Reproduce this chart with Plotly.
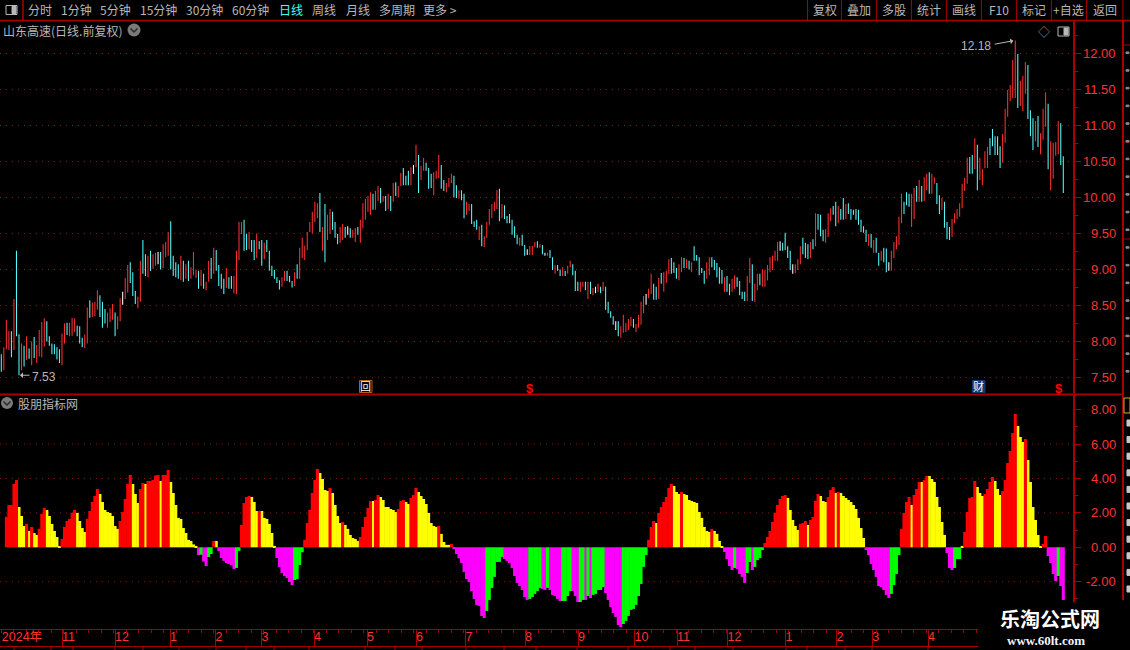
import pandas as pd
import plotly.graph_objects as go

# daily bars (range only, bodies are too thin to see)
highs = [
    7.82,7.92,8.30,8.14,8.14,8.59,9.26,8.10,7.97,7.94,
    8.07,7.90,8.00,8.06,7.95,8.16,8.27,8.32,8.28,8.07,
    7.97,7.96,7.92,7.89,8.11,8.25,8.26,8.26,8.33,8.32,
    8.22,8.21,8.05,8.10,8.47,8.57,8.54,8.55,8.71,8.64,
    8.55,8.45,8.40,8.46,8.52,8.40,8.35,8.60,8.69,8.88,
    9.06,9.10,8.96,8.70,8.62,9.12,9.41,9.21,9.19,9.26,
    9.21,9.23,9.24,9.24,9.35,9.38,9.52,9.67,9.19,9.10,
    9.07,9.19,9.12,9.07,9.12,9.03,9.24,9.00,8.98,8.99,
    8.94,8.83,9.12,9.16,9.30,9.27,9.06,8.94,8.87,9.02,
    8.89,8.91,8.91,9.26,9.66,9.66,9.69,9.49,9.52,9.41,
    9.41,9.50,9.39,9.41,9.37,9.41,9.26,9.05,8.99,8.89,
    8.85,8.89,8.98,8.98,8.91,8.84,8.96,9.07,9.30,9.44,
    9.33,9.52,9.66,9.80,9.94,9.92,10.06,9.59,9.91,9.76,
    9.84,9.80,9.66,9.49,9.59,9.63,9.59,9.60,9.57,9.55,
    9.57,9.59,9.69,9.92,9.98,10.02,10.07,10.05,10.09,10.16,
    10.13,10.02,10.02,10.05,10.02,10.20,10.21,10.16,10.34,10.41,
    10.30,10.37,10.42,10.45,10.73,10.59,10.44,10.55,10.48,10.41,
    10.33,10.35,10.37,10.59,10.45,10.24,10.20,10.27,10.33,10.30,
    10.17,10.10,10.10,10.05,9.94,9.91,9.91,9.67,9.69,9.60,
    9.62,9.46,9.66,9.84,9.91,9.94,10.10,10.12,9.91,9.89,
    9.74,9.77,9.69,9.60,9.48,9.44,9.48,9.34,9.28,9.33,
    9.33,9.38,9.39,9.35,9.34,9.23,9.23,9.27,9.17,9.06,
    9.06,9.00,9.03,8.98,9.05,9.12,9.07,8.98,8.83,8.83,
    8.83,8.83,8.83,8.83,8.74,8.76,8.80,8.76,8.83,8.76,
    8.55,8.42,8.35,8.28,8.28,8.21,8.37,8.26,8.31,8.34,
    8.31,8.24,8.37,8.55,8.63,8.66,8.73,8.94,8.80,8.76,
    8.88,8.95,8.96,8.98,9.14,9.16,9.10,9.02,9.07,9.17,
    9.16,9.14,9.12,9.10,9.32,9.20,9.17,9.02,8.98,9.10,
    9.17,9.17,9.13,9.09,9.03,8.99,8.89,8.91,8.80,8.87,
    8.92,8.89,8.84,8.69,8.69,8.91,9.16,9.07,8.80,8.94,
    8.94,9.00,9.00,9.06,9.17,9.19,9.26,9.38,9.39,9.37,
    9.51,9.32,9.26,9.07,9.07,9.14,9.32,9.44,9.37,9.35,
    9.38,9.42,9.78,9.77,9.76,9.55,9.56,9.78,9.85,9.88,
    9.94,9.88,9.84,9.99,9.91,9.92,9.84,9.83,9.84,9.83,
    9.69,9.60,9.55,9.49,9.49,9.41,9.44,9.23,9.26,9.30,
    9.29,9.10,9.26,9.38,9.46,9.73,10.05,9.94,10.07,10.05,
    10.05,10.13,10.16,10.24,10.16,10.28,10.33,10.35,10.33,10.28,
    10.20,10.03,9.99,9.94,9.66,9.59,9.70,9.78,9.84,9.92,
    10.19,10.27,10.55,10.56,10.59,10.82,10.73,10.55,10.39,10.64,
    10.70,10.82,10.95,10.85,10.85,10.71,10.88,11.23,11.49,11.56,
    11.91,12.18,11.99,11.62,11.69,11.88,11.84,11.21,11.10,11.06,
    11.13,10.89,11.23,11.46,11.30,10.78,10.76,10.77,11.06,11.03,
    10.57,
]
lows = [
    7.58,7.60,7.89,7.88,7.78,7.88,8.07,7.53,7.60,7.65,
    7.74,7.76,7.67,7.77,7.70,7.79,7.78,7.93,8.00,7.94,
    7.82,7.82,7.75,7.70,7.67,7.97,8.09,8.07,8.08,8.13,
    8.07,7.97,7.92,7.91,7.97,8.33,8.34,8.35,8.44,8.34,
    8.19,8.25,8.19,8.27,8.30,8.07,8.17,8.28,8.51,8.59,
    8.68,8.81,8.63,8.52,8.46,8.55,8.94,8.91,8.89,8.98,
    9.01,9.05,9.07,9.00,9.02,9.17,9.19,9.00,8.91,8.89,
    8.87,8.85,8.83,8.87,8.84,8.87,8.92,8.88,8.73,8.77,
    8.73,8.71,8.83,8.87,8.94,8.98,8.77,8.73,8.66,8.74,
    8.73,8.73,8.67,8.66,9.13,9.49,9.26,9.27,9.28,9.24,
    9.13,9.16,9.28,9.05,9.14,9.24,8.98,8.91,8.87,8.81,
    8.72,8.76,8.84,8.84,8.82,8.75,8.77,8.87,8.87,9.16,
    9.13,9.27,9.52,9.50,9.66,9.71,9.52,9.26,9.10,9.41,
    9.49,9.55,9.44,9.35,9.37,9.41,9.44,9.48,9.44,9.44,
    9.38,9.48,9.37,9.57,9.69,9.80,9.76,9.83,9.83,9.95,
    9.92,9.94,9.81,9.84,9.81,9.94,10.02,10.00,10.16,10.17,
    10.17,10.17,10.17,10.33,10.42,10.06,10.24,10.37,10.37,10.12,
    10.13,10.03,10.26,10.27,10.12,10.09,10.07,10.14,10.20,10.00,
    9.99,9.98,9.96,9.71,9.76,9.81,9.63,9.59,9.55,9.41,
    9.32,9.31,9.44,9.62,9.71,9.81,9.84,9.67,9.71,9.70,
    9.64,9.64,9.48,9.44,9.35,9.33,9.33,9.19,9.20,9.20,
    9.20,9.31,9.30,9.30,9.21,9.19,9.19,9.16,8.99,8.94,
    8.98,8.91,8.91,8.91,8.94,9.03,8.92,8.70,8.70,8.69,
    8.76,8.71,8.59,8.66,8.64,8.67,8.69,8.67,8.70,8.44,
    8.39,8.33,8.23,8.16,8.07,8.05,8.12,8.13,8.16,8.21,
    8.19,8.13,8.19,8.23,8.39,8.51,8.60,8.66,8.58,8.58,
    8.59,8.80,8.69,8.81,8.94,8.94,8.95,8.87,8.85,8.96,
    9.02,9.02,9.00,8.96,9.12,9.12,8.92,8.95,8.80,8.87,
    8.92,9.03,8.99,8.89,8.80,8.80,8.69,8.69,8.64,8.69,
    8.73,8.76,8.64,8.59,8.56,8.56,8.81,8.56,8.55,8.71,
    8.78,8.76,8.76,8.85,8.96,8.99,9.12,9.12,9.26,9.26,
    9.27,9.16,8.99,8.94,8.95,8.99,9.07,9.21,9.16,9.14,
    9.16,9.28,9.32,9.55,9.46,9.39,9.37,9.45,9.67,9.76,
    9.60,9.64,9.69,9.69,9.70,9.77,9.69,9.76,9.69,9.62,
    9.52,9.51,9.38,9.33,9.30,9.23,9.23,9.05,9.12,9.10,
    8.96,8.98,8.98,9.16,9.28,9.34,9.64,9.77,9.89,9.87,
    9.59,9.70,9.94,9.94,9.94,9.95,10.10,10.05,10.05,10.19,
    9.91,9.77,9.83,9.58,9.42,9.41,9.45,9.64,9.70,9.73,
    9.85,10.09,10.19,10.33,10.33,10.39,10.10,10.24,10.17,10.41,
    10.41,10.59,10.71,10.59,10.59,10.41,10.48,10.76,11.12,11.34,
    11.38,11.38,11.24,11.27,11.20,11.44,11.09,10.85,10.66,10.78,
    10.70,10.60,10.80,10.98,10.39,10.10,10.26,10.58,10.60,10.45,
    10.06,
]
# r rising, c falling, w unchanged
bar_kinds = (
    "crrrcrccrc" "rcrcrrrrcc" "ccccrrcrrr" "cccrrcrrrc" "ccrrrcrrwr"
    "rcccrrccrc" "rrwcrrrccc" "crcrcrrrcr" "crrcrccccr" "ccrrrrccrc"
    "crccrccccc" "crrcccrcrr" "rrrrrrcrcr" "rcccrrcwcr" "rcrrrrrcrr"
    "crcrcrcrrc" "ccrwrcrrcc" "crrrccrrrc" "crccrrcccr" "crrrrrrcrc"
    "cccccrccwr" "rrcrcwrccr" "ccrcrrcccr" "rcrcrwrcrc" "cccwcrrrrr"
    "crrrrwrrcc" "rcrrrcccrr" "crcrcccccr" "rcccccrccr" "rccccrrcrr"
    "crrrrrrrwc" "cccwrrrccc" "rcrcccrrrc" "crccrccccc" "cccrcrccrc"
    "cwrrrrrccc" "rrcrcrrcrr" "ccrcccrrrr" "rrrccrcrrr" "rccccc" "rrrr"
    "rrcrrrcccr" "crrrcrrrrc" "c"
)

# indicator histogram, same days
ind_values = [
    0,0,1.78,2.46,2.46,3.68,3.91,2.34,1.82,1.24,
    1.36,0.95,1.18,0.83,0.72,1.07,1.94,2.29,2.17,1.82,
    1.36,0.95,0.60,0.03,0.48,1.18,1.53,1.65,2.00,2.17,
    2.00,1.53,1.12,0.89,1.65,2.11,2.64,2.98,3.39,3.10,
    2.64,2.17,2.05,2.00,1.82,1.24,1.07,1.53,2.05,2.81,
    3.68,4.21,3.68,3.10,2.58,3.39,3.74,3.68,3.86,3.86,
    3.91,4.17,4.21,3.86,4.21,4.21,4.50,3.80,3.16,2.46,
    1.71,1.65,1.12,0.83,0.43,0.37,0.17,0.08,-0.45,-0.43,
    -0.83,-1.09,-0.56,-0.39,0.37,0.37,-0.21,-0.62,-0.79,-0.91,
    -0.97,-1.03,-1.26,-1.20,-0.21,1.30,2.58,2.93,2.98,2.93,
    2.64,2.11,2.11,2.11,1.71,1.65,1.36,0.83,0.08,-0.62,
    -1.14,-1.49,
    -1.67,-1.78,-2.02,-2.19,-1.90,-1.84,-1.03,-0.29,0.43,1.41,
    2.17,3.16,3.91,4.55,4.32,3.97,3.33,3.27,3.45,3.16,
    2.46,1.82,1.41,1.47,1.30,1.07,0.72,0.54,0.48,0.37,
    0.60,1.18,1.76,2.29,2.69,2.69,2.75,3.04,2.93,2.75,
    2.34,2.34,2.23,2.17,2.05,2.23,2.69,2.75,2.64,2.52,
    2.87,3.04,3.45,3.22,2.98,2.81,2.52,2.00,1.41,1.24,
    1.18,1.24,0.78,0.31,0.14,0.14,0.19,-0.10,-0.39,-0.64,
    -0.91,-1.43,-1.84,-2.02,-2.54,-3.00,-3.35,-3.41,-3.99,-4.11,
    -3.70,-3.06,-2.36,-1.72,-0.85,-0.85,-0.56,-0.68,-0.79,-0.91,
    -1.20,-1.67,-2.07,-2.25,-2.48,-2.89,-3.06,-3.00,-2.89,-2.71,
    -2.54,-2.36,-2.42,-2.48,-2.36,-2.48,-2.77,-2.83,-3.00,-3.12,
    -3.12,-3.12,-2.83,-2.54,-2.54,-2.83,-3.18,-3.18,-3.06,-3.06,
    -2.83,-2.95,-2.77,-2.71,-2.48,-2.48,-2.31,-2.66,-3.06,-3.47,
    -3.82,-4.05,-4.52,-4.63,-4.46,-4.28,-3.99,-3.64,-3.58,-3.35,
    -2.83,-2.13,-1.14,-0.45,0.43,1.18,1.53,1.41,2.00,2.34,
    2.64,2.93,3.45,3.68,3.57,3.22,3.10,3.22,3.10,3.04,
    2.75,2.69,2.64,2.58,2.05,1.71,1.18,0.95,0.89,1.07,
    0.95,0.78,0.37,0.03,-0.27,-0.68,-1.09,-1.32,-1.20,-1.26,
    -1.55,-1.72,-2.07,-1.49,-0.85,-1.32,-1.14,-0.74,-0.62,-0.16,
    0.25,0.60,0.95,1.47,2.00,2.46,2.81,2.98,3.04,2.87,
    2.17,1.59,1.24,1.01,1.36,1.41,1.53,1.30,1.59,1.76,
    2.69,3.10,2.98,2.69,2.64,2.93,3.33,3.51,3.16,3.22,
    3.16,
    2.98,2.87,2.75,2.64,2.46,2.23,1.71,1.12,0.54,-0.16,
    -0.45,-0.97,-1.32,-1.72,-2.25,-2.31,-2.48,-2.77,-2.95,-2.71,
    -2.19,-1.55,-0.45,1.07,2.00,2.64,2.93,2.46,3.04,3.39,
    3.80,3.80,3.91,4.15,4.15,3.97,3.80,2.93,2.34,1.47,
    0.72,-0.33,-1.20,-1.32,-1.20,-0.68,-0.68,0.08,0.89,2.05,
    2.87,2.93,3.86,3.51,3.16,2.98,3.10,3.39,3.80,4.09,
    3.86,3.39,3.04,3.28,3.91,4.90,5.60,6.65,7.75,7.05,
    6.41,6.12,6.30,5.08,3.80,2.34,1.59,0.72,0.03,0.19,
    0.66,-0.50,-0.91,-1.55,-1.96,-1.67,-2.25,-3.06,
]
ind_kinds = (
    "yyrrrrryyy" "ryryyrrryy" "yyyyrrrrrr" "yyyyrrrrry" "yyyyyyyrrr"
    "rryyyrryrr" "rrryrrryyy" "yyyyyyyymg" "mmggrymmmm" "mmmggrrrry"
    "yyryyyyyym" "mm"
    "mmmmggggrr" "rrrryyyyry" "yyyryyyyyy" "rrrrryrryy" "yyyyyrrryy"
    "rrryyyyyyy" "yryyyyrmmm" "mmmmmmmmmm" "gggggggmmm" "mmmmmmmggg"
    "ggmmgmmmmm"
    "ggggmmmggm" "gmgggggmmm" "mmmmgggggg" "ggggrrryrr" "rrrryyyryy"
    "yyyyyyyyyr" "yyyymmmmgm" "mmmggmgggg" "rrrrrrrrry" "yyyyrrryrr"
    "rryyyrrryr" "y"
    "yyyyyyyyym" "mmmmmmmmmg" "gggrrrryrr" "ryrryyyyyy" "ymmmgggyrr"
    "rrryyyrrrr" "yyyrrrrrry" "yyryyyyyyr" "rmmmmgmm"
)

price_ticks = [7.5, 8.0, 8.5, 9.0, 9.5, 10.0, 10.5, 11.0, 11.5, 12.0]
ind_ticks = [-2, 0, 2, 4, 6, 8]
ind_grid = [-2, 2, 4, 6]

# month strip under the chart (position counted in bars of the strip)
month_labels = ["2024年", "11", "12", "1", "2", "3", "4", "5", "6", "7", "8",
                "9", "10", "11", "12", "1", "2", "3", "4"]
month_pos = [0.2, 24.3, 45.5, 67.5, 85.7, 104.1, 125.1, 146.3, 165.9, 185.7, 209.5,
             230.7, 253.3, 270.3, 290.5, 313.7, 334.1, 348.4, 370.7]

tools_left = ["分时", "1分钟", "5分钟", "15分钟", "30分钟", "60分钟", "日线", "周线", "月线", "多周期", "更多 >"]
tools_left_x = [39.5, 76, 115.5, 158, 204, 250, 290.5, 323.5, 357.5, 396.5, 439.5]
tools_right = ["复权", "叠加", "多股", "统计", "画线", "F10", "标记", "+自选", "返回"]
tools_right_x = [824.6, 858.6, 893.6, 928.6, 963.6, 998.6, 1033.6, 1068.6, 1104.6]
tools_right_div = [807.5, 841.4, 876.4, 911.4, 946.4, 981.4, 1016.4, 1051.4, 1086.4, 1122.9]
strip_foot = [14, 51, 73, 115, 143, 179, 216, 246, 274, 309, 365, 395, 422, 466, 504,
              536, 577, 628, 670, 695, 733, 786, 807, 845, 872, 928]

RED_LINE = "#a80000"
RED_TEXT = "#ff3232"
GREY = "#b8b8b8"
GRID = "#8a1414"
CJK = "Noto Sans CJK SC"
W, H = 1130, 650


def px(x):
    return x / W


def py(y):
    return 1 - y / H


def rule(x0, y0, x1, y1, color=RED_LINE, width=1):
    return dict(type="line", xref="paper", yref="paper", x0=px(x0), y0=py(y0), x1=px(x1), y1=py(y1),
                line=dict(color=color, width=width), layer="above")


def box(x0, y0, x1, y1, fill, line=None):
    return dict(type="rect", xref="paper", yref="paper", x0=px(x0), y0=py(y0), x1=px(x1), y1=py(y1),
                fillcolor=fill, line=dict(color=line or fill, width=1), layer="above")


def label(x, y, text, color=GREY, size=12, anchor="center", family=CJK, **kw):
    return dict(xref="paper", yref="paper", x=px(x), y=py(y), text=text, showarrow=False, xanchor=anchor,
                yanchor="middle", font=dict(color=color, size=size, family=family), **kw)


def chevron(cx, cy):
    return dict(type="path", xref="paper", yref="paper",
                path=f"M {px(cx-3.5)} {py(cy-1.5)} L {px(cx)} {py(cy+2)} L {px(cx+3.5)} {py(cy-1.5)}",
                line=dict(color="#2a2a2a", width=1.5), layer="above")


def circle(cx, cy, r):
    return dict(type="circle", xref="paper", yref="paper", x0=px(cx-r), y0=py(cy-r), x1=px(cx+r), y1=py(cy+r),
                fillcolor="#7a7a7a", line=dict(color="#7a7a7a", width=0), layer="above")


bars = pd.DataFrame({"high": highs, "low": lows, "kind": list(bar_kinds)})
bars["i"] = bars.index
hist = pd.DataFrame({"value": ind_values, "kind": list(ind_kinds)})
hist["i"] = hist.index

fig = go.Figure()
# alpha just under 1 makes plotly round thin bars instead of widening them to 2px
for kind, color in [("r", "rgba(255,48,48,0.99)"), ("c", "rgba(84,252,252,0.99)"), ("w", "rgba(255,255,255,0.99)")]:
    part = bars[bars["kind"] == kind]
    fig.add_bar(x=part["i"], y=part["high"] - part["low"], base=part["low"], width=0.42,
                marker=dict(color=color, line=dict(width=0)), xaxis="x", yaxis="y", hoverinfo="skip")
for kind, color in [("y", "#ffff00"), ("r", "#ff0000"), ("m", "#ff00ff"), ("g", "#00ff00")]:
    part = hist[hist["kind"] == kind]
    # slightly over 1 so the rounded bars close up without dark seams
    fig.add_bar(x=part["i"], y=part["value"], width=1.2,
                marker=dict(color=color, line=dict(width=0)), xaxis="x2", yaxis="y2", hoverinfo="skip")
fig.add_scatter(x=month_pos, y=[0] * len(month_pos), text=month_labels, mode="text", textposition="middle right",
                textfont=dict(color=RED_TEXT, size=12.5, family="Liberation Sans, " + CJK),
                xaxis="x3", yaxis="y3", hoverinfo="skip")

# the horizontal scale is tied to the number of bars
n = len(highs)
step = (1063.3 - 1.3) / (n - 1)
x_range = [-1.3 / step, (1072.7 - 1.3) / step]
axis_common = dict(domain=[0, px(1072.7)], range=x_range, visible=False, fixedrange=True)

fig.update_layout(
    width=W, height=H, margin=dict(l=0, r=0, t=0, b=0), paper_bgcolor="#000000", plot_bgcolor="#000000",
    barmode="overlay", showlegend=False,
    xaxis=dict(anchor="y", **axis_common),
    xaxis2=dict(anchor="y2", **axis_common),
    xaxis3=dict(anchor="y3", domain=[0, px(978)], range=[-0.52, 978 / 2.5 - 0.52], side="top",
                showline=True, mirror=True, linecolor=RED_LINE, linewidth=1, showgrid=False, zeroline=False,
                tickmode="array", tickvals=month_pos[1:], ticktext=[""] * (len(month_pos) - 1),
                ticks="inside", ticklen=16, tickcolor=RED_LINE, showticklabels=False,
                minor=dict(tickmode="linear", tick0=0, dtick=5, ticks="inside", ticklen=3, tickcolor=RED_LINE)),
    yaxis=dict(anchor="x", domain=[py(394), py(20.5)], side="right",
               range=[12 - (394 - 53.4) / 72, 12 + (53.4 - 20.5) / 72],
               tickvals=price_ticks, showticklabels=False, ticks="outside", ticklen=6, tickcolor=RED_LINE,
               showline=True, linecolor=RED_LINE, linewidth=2, zeroline=False,
               showgrid=True, gridcolor=GRID, griddash="1px,5px", gridwidth=1,
               minor=dict(tickmode="linear", tick0=7.25, dtick=0.5, ticks="outside", ticklen=3, tickcolor=RED_LINE)),
    yaxis2=dict(anchor="x2", domain=[py(630), py(394)], side="right",
                range=[(547.3 - 630) / 17.2, (547.3 - 394) / 17.2],
                tickvals=ind_ticks, showticklabels=False, ticks="outside", ticklen=6, tickcolor=RED_LINE,
                showline=True, linecolor=RED_LINE, linewidth=2, zeroline=False, showgrid=False,
                minor=dict(tickmode="linear", tick0=-1, dtick=2, ticks="outside", ticklen=3, tickcolor=RED_LINE)),
    yaxis3=dict(anchor="x3", domain=[py(646), py(630)], range=[-1, 1], visible=False, fixedrange=True),
)

shapes = [
    rule(0, 20.5, 1130, 20.5, width=1.5),
    rule(23, 0, 23, 20.5, width=1.5),
    rule(0, 394.5, 1123, 394.5, width=2),
    rule(1123, 20.5, 1123, 600, width=2),
    # top left panel toggle, same one again above the price axis
    dict(type="rect", xref="paper", yref="paper", x0=px(6), y0=py(5.5), x1=px(17), y1=py(14.5),
         line=dict(color=GREY, width=1), fillcolor="#000000", layer="above"),
    box(12, 6.5, 16, 13.5, GREY),
    dict(type="rect", xref="paper", yref="paper", x0=px(1058), y0=py(27), x1=px(1069), y1=py(36),
         line=dict(color=GREY, width=1), fillcolor="#000000", layer="above"),
    box(1064, 28, 1068, 35, GREY),
    circle(134, 30, 6.5), chevron(134, 30),
    circle(7, 403, 6), chevron(7, 403),
    # cut off column at the right edge of the window
    box(1124, 398, 1130, 413, "#000000", "#c8b020"),
    # event icon backgrounds
    box(359.5, 380.5, 372, 392.5, "#000000", "#a8601c"),
    box(972.5, 380.5, 985, 392.5, "#0a3a78"),
]
for x in tools_right_div:
    shapes.append(rule(x, 0, x, 20.5))
for v in ind_grid:
    shapes.append(dict(type="line", xref="paper", yref="y2", x0=0, x1=px(1072.7), y0=v, y1=v,
                       line=dict(color=GRID, width=1, dash="1px,5px"), layer="below"))
for x in strip_foot:
    shapes.append(rule(x, 646, x, 650))
for y in [45, 142, 239, 336]:
    shapes.append(rule(1123, y, 1130, y))
for k in range(11):
    y = 420 + k * 16.6
    shapes.append(box(1127, y, 1130, y + 6, "#c8c8c8"))
for k in range(19):
    y = 52 + k * 17.7
    shapes.append(box(1126, y, 1129, y + 1.5, "#8c8c8c"))
# watermark panel covers the corner
shapes.append(box(979, 603, 1130, 650, "#000000"))

notes = []
for text, x, in zip(tools_left, tools_left_x):
    notes.append(label(x, 9.5, text, color="#40ffff" if text == "日线" else GREY))
for text, x in zip(tools_right, tools_right_x):
    notes.append(label(x, 9.5, text))
notes.append(label(1, 30, "山东高速(日线.前复权)", anchor="left"))
notes.append(label(16, 403, "股朋指标网", anchor="left"))
notes.append(label(1044, 31, "◇", color="#8c8c8c", size=12))
for v in price_ticks:
    notes.append(dict(xref="paper", yref="y", x=px(1117.5), y=v, text=f"{v:.2f}", showarrow=False, xanchor="right",
                      yanchor="middle", font=dict(color=RED_TEXT, size=13, family="Liberation Sans")))
for v in ind_ticks:
    notes.append(dict(xref="paper", yref="y2", x=px(1117.5), y=v, text=f"{v:.2f}", showarrow=False, xanchor="right",
                      yanchor="middle", font=dict(color=RED_TEXT, size=13, family="Liberation Sans")))
# extreme marks
top_i = highs.index(max(highs))
low_i = lows.index(min(lows))
notes.append(label(976, 45.5, f"{max(highs):.2f}", size=12, family="Liberation Sans"))
notes.append(dict(xref="x", yref="y", x=top_i, y=max(highs), ax=-22, ay=4, text="", showarrow=True, arrowhead=1,
                  arrowsize=1, arrowwidth=1, arrowcolor=GREY, standoff=2))
notes.append(label(44, 377, f"{min(lows):.2f}", size=12, family="Liberation Sans"))
notes.append(dict(xref="x", yref="y", x=low_i, y=min(lows), ax=12, ay=0, text="", showarrow=True, arrowhead=1,
                  arrowsize=1, arrowwidth=1, arrowcolor=GREY, standoff=1))
# event icons
notes.append(label(365.7, 386.3, "回", color="#ffffff", size=11, borderpad=0))
notes.append(label(978.8, 386.3, "财", color="#ffffff", size=11, borderpad=0))
notes.append(label(530, 388, "<b>$</b>", color="#ff0000", size=13, family="Liberation Sans"))
notes.append(label(1058.7, 388, "<b>$</b>", color="#ff0000", size=13, family="Liberation Sans"))
# watermark
notes.append(label(1050, 618, "<b>乐淘公式网</b>", color="#ffffff", size=20))
notes.append(label(1046, 640.5, "<b>www.60lt.com</b>", color="#f0f4ff", size=13, family="Liberation Serif"))

fig.update_layout(shapes=shapes, annotations=notes)
fig.write_html("out.html", config=dict(displayModeBar=False),
               post_script="document.body.style.margin='0';document.body.style.overflow='hidden';")
